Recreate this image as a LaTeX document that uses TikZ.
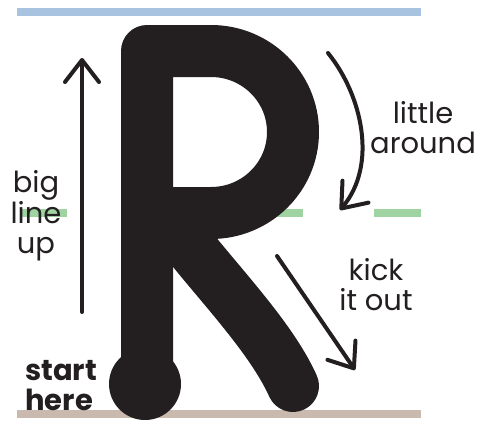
\documentclass[tikz,border=0pt]{standalone}
\usepackage{fontspec}
\setmainfont{Poppins}
\usetikzlibrary{arrows.meta}
\definecolor{ink}{HTML}{231F20}
\definecolor{capguide}{HTML}{A7C3E0}
\definecolor{midguide}{HTML}{A0D3A2}
\definecolor{baseguide}{HTML}{C9B9AE}
\tikzset{
  guide/.style={line width=7.5pt},
  letter/.style={draw=ink, line width=52pt, line join=round, line cap=round},
  hint/.style={draw=ink, line width=4pt, line cap=round, -{Straight Barb[length=22pt, width=34pt, round]}},
  note/.style={text=ink, font=\fontsize{29}{29.5}\selectfont, align=center, inner sep=0pt, anchor=base},
}

\begin{document}
\begin{tikzpicture}[x=1pt, y=-1pt]
    \useasboundingbox (0,0) rectangle (481,421);

    % writing guides
    \draw[guide, capguide] (17,12) -- (421,12);
    \draw[guide, midguide, dash pattern=on 47pt off 71pt] (20,213) -- (421,213);
    \draw[guide, baseguide] (17,414) -- (421,414);

    % the letter
    \path[letter] (147,384) -- (147,51) -- (211,51)
      arc[start angle=-90, end angle=90, x radius=82, y radius=81] -- (147,213);
    \path[letter] (177,230) .. controls (215,280) and (270,335) .. (293,386);
    \fill[ink] (145,384) circle[radius=36];

    % stroke hints
    \coordinate (upstart) at (82,312);
    \coordinate (uptip) at (82,58);
    \coordinate (bowlstart) at (328,53);
    \coordinate (bowltip) at (340,210);
    \coordinate (kickstart) at (277,256);
    \coordinate (kicktip) at (355,370);
    \draw[hint] (upstart) -- (uptip);
    \draw[hint] (bowlstart) .. controls (362,95) and (378,165) .. (bowltip);
    \draw[hint] (kickstart) -- (kicktip);

    \node[note] (bigline) at (36,253) {big\\line\\up};
    \node[note] (around) at (423,153) {little\\around};
    \node[note] (kick) at (376,310) {kick\\it out};
    \node[note, anchor=base west, align=left, font=\fontsize{29}{29.5}\selectfont\bfseries] (start) at (25,410) {start\\here};
\end{tikzpicture}
\end{document}
